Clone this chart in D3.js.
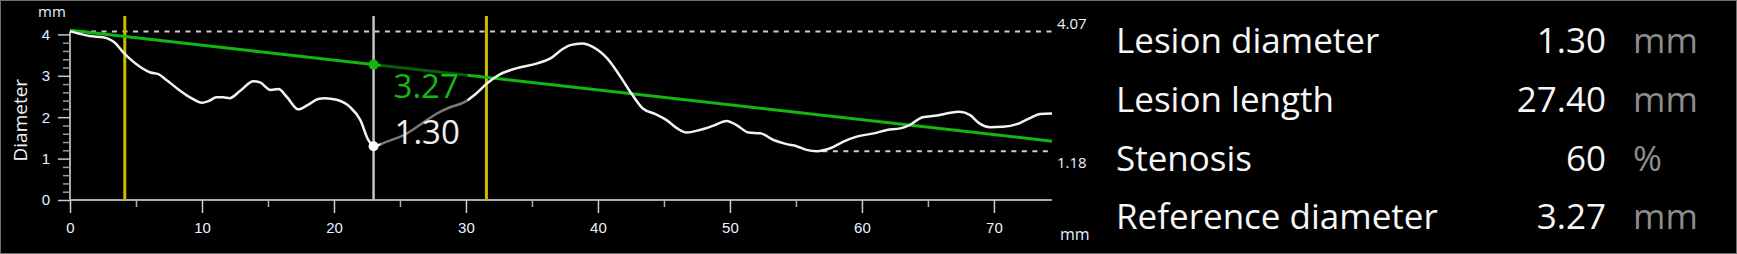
<!DOCTYPE html>
<html>
<head>
<meta charset="utf-8">
<script src="https://cdn.jsdelivr.net/npm/d3@7"></script>
<style>
  body { margin: 0; background: #000; }
  svg { display: block; font-family: "Segoe UI", "Open Sans", sans-serif; }
</style>
</head>
<body>
<div id="chart"></div>
<script>
// diameter profile along the vessel (mm, mm)
const positions = [0, 0.8, 1.5, 2.5, 3.0, 3.4, 4.0, 4.5, 5.3, 6.1, 6.7, 7.3, 8.1, 9.1, 10.0, 10.5, 11.1, 11.6, 12.1, 12.9,
    13.9, 14.4, 15.2, 15.8, 16.4, 17.3, 18.0, 18.8, 19.3, 20.2, 21.2, 22.0, 22.6, 23.0, 24.0, 25.3, 26.5, 27.8, 28.8, 29.8,
    30.8, 31.6, 32.6, 33.8, 35.4, 36.4, 37.3, 37.9, 38.8, 39.6, 40.7, 41.7, 42.6, 43.4, 44.4, 45.2, 46.0, 46.7, 47.7, 48.7,
    49.75, 50.5, 51.4, 52.3, 53.3, 54.3, 55.05, 55.8, 56.6, 57.6, 58.6, 59.6, 60.9, 61.9, 62.9, 63.6, 64.6, 65.7, 66.7, 67.4,
    68.2, 68.9, 69.7, 70.7, 71.8, 72.7, 73.5, 74.4]
const diameters = [4.08, 4.01, 3.96, 3.93, 3.88, 3.80, 3.58, 3.42, 3.22, 3.08, 3.04, 2.90, 2.70, 2.48, 2.35, 2.39, 2.48, 2.48, 2.46, 2.64,
    2.87, 2.84, 2.66, 2.68, 2.50, 2.19, 2.29, 2.44, 2.46, 2.42, 2.25, 1.93, 1.45, 1.30, 1.41, 1.57, 1.81, 2.09, 2.24, 2.35,
    2.58, 2.82, 3.04, 3.18, 3.30, 3.42, 3.64, 3.74, 3.78, 3.70, 3.42, 2.98, 2.54, 2.21, 2.07, 1.93, 1.73, 1.63, 1.69, 1.79,
    1.91, 1.81, 1.63, 1.61, 1.45, 1.35, 1.30, 1.21, 1.18, 1.25, 1.41, 1.53, 1.61, 1.69, 1.73, 1.81, 2.00, 2.04, 2.11, 2.13,
    2.05, 1.85, 1.76, 1.77, 1.84, 1.97, 2.08, 2.09]

const xTicks = [0, 10, 20, 30, 40, 50, 60, 70]
const xMinorTicks = [5, 15, 25, 35, 45, 55, 65]
const yTicks = [0, 1, 2, 3, 4]
const yMinorTicks = d3.range(1, 21).map(i => i / 5).filter(v => v % 1 !== 0)

const maxDiameter = 4.07
const minDiameter = 1.18
const minDashStart = 57.0
const referenceLine = [[0, 4.10], [74.4, 1.42]]
const lesionBounds = [4.15, 31.55]
const lesionPos = 23.0
const lesionDiameter = 1.30
const referenceDiameter = 3.27

const statLabels = ["Lesion diameter", "Lesion length", "Stenosis", "Reference diameter"]
const statValues = ["1.30", "27.40", "60", "3.27"]
const statUnits = ["mm", "mm", "%", "mm"]

const W = 1737, H = 254
const svg = d3.select("#chart").append("svg").attr("width", W).attr("height", H)

svg.append("rect").attr("x", 0.5).attr("y", 0.5).attr("width", W - 1).attr("height", H - 1)
    .attr("fill", "#000").attr("stroke", "#6e6e6e")

const x = d3.scaleLinear().domain([0, 74.4]).range([70, 1052])
const y = d3.scaleLinear().domain([0, maxDiameter]).range([200, 200 - 41.4 * maxDiameter])

const labelColor = "#eaf0ff"

// y axis
svg.append("line").attr("x1", x(0)).attr("x2", x(0)).attr("y1", y(0)).attr("y2", y(maxDiameter))
    .attr("stroke", "#a8a8a8").attr("stroke-width", 2)
svg.append("g").attr("transform", `translate(${x(0)},0)`)
    .call(d3.axisLeft(y).tickValues(yMinorTicks).tickSize(7).tickFormat(""))
    .call(g => g.select(".domain").remove())
    .call(g => g.selectAll("line").attr("stroke", "#9a9a9a").attr("stroke-width", 1.5))
svg.append("g").attr("transform", `translate(${x(0)},0)`)
    .call(d3.axisLeft(y).tickValues(yTicks).tickSize(12).tickPadding(8).tickFormat(d3.format("d")))
    .call(g => g.select(".domain").remove())
    .call(g => g.selectAll("line").attr("stroke", "#c8c8c8").attr("stroke-width", 1.5))
    .call(g => g.selectAll("text").attr("fill", labelColor).attr("font-size", 15).attr("font-family", null))

// x axis
svg.append("line").attr("x1", x(0)).attr("x2", x(74.4)).attr("y1", y(0)).attr("y2", y(0))
    .attr("stroke", "#a8a8a8").attr("stroke-width", 2)
svg.append("g").attr("transform", `translate(0,${y(0)})`)
    .call(d3.axisBottom(x).tickValues(xMinorTicks).tickSize(7).tickFormat(""))
    .call(g => g.select(".domain").remove())
    .call(g => g.selectAll("line").attr("stroke", "#b0b0b0").attr("stroke-width", 1.5))
svg.append("g").attr("transform", `translate(0,${y(0)})`)
    .call(d3.axisBottom(x).tickValues(xTicks).tickSize(13).tickPadding(9).tickFormat(d3.format("d")))
    .call(g => g.select(".domain").remove())
    .call(g => g.selectAll("line").attr("stroke", "#d0d0d0").attr("stroke-width", 1.5))
    .call(g => g.selectAll("text").attr("fill", labelColor).attr("font-size", 15).attr("font-family", null))

svg.append("text").attr("x", 38).attr("y", 17).attr("fill", labelColor).attr("font-size", 15).text("mm")
svg.append("text").attr("x", 1060).attr("y", 240).attr("fill", labelColor).attr("font-size", 16).text("mm")
svg.append("text").attr("transform", `translate(27,${y(2) + 3}) rotate(-90)`).attr("text-anchor", "middle")
    .attr("fill", "#f0f0f0").attr("font-size", 19).text("Diameter")

// max / min dashed lines
svg.append("line").attr("x1", x(0)).attr("x2", x(74.4)).attr("y1", y(maxDiameter)).attr("y2", y(maxDiameter))
    .attr("stroke", "#cfcfcf").attr("stroke-width", 2).attr("stroke-dasharray", "5,5.5")
svg.append("line").attr("x1", x(minDashStart)).attr("x2", x(74.4)).attr("y1", y(minDiameter)).attr("y2", y(minDiameter))
    .attr("stroke", "#cfcfcf").attr("stroke-width", 2).attr("stroke-dasharray", "5,5.5")
svg.append("text").attr("x", 1057).attr("y", y(maxDiameter) - 3).attr("fill", labelColor).attr("font-size", 15)
    .text(maxDiameter.toFixed(2))
svg.append("text").attr("x", 1057).attr("y", y(minDiameter) + 17).attr("fill", labelColor).attr("font-size", 15)
    .text(minDiameter.toFixed(2))

// lesion boundaries and marker line
lesionBounds.forEach(b => {
    svg.append("line").attr("x1", x(b)).attr("x2", x(b)).attr("y1", 16).attr("y2", y(0))
        .attr("stroke", "#cbbb00").attr("stroke-width", 3)
})
svg.append("line").attr("x1", x(lesionPos)).attr("x2", x(lesionPos)).attr("y1", 16).attr("y2", y(0))
    .attr("stroke", "#c4c4c4").attr("stroke-width", 2.5)

// reference diameter line
svg.append("line")
    .attr("x1", x(referenceLine[0][0])).attr("y1", y(referenceLine[0][1]))
    .attr("x2", x(referenceLine[1][0])).attr("y2", y(referenceLine[1][1]))
    .attr("stroke", "#12b812").attr("stroke-width", 3)

// diameter curve
const line = d3.line().x((d, i) => x(positions[i])).y(d => y(d)).curve(d3.curveMonotoneX)
svg.append("path").datum(diameters).attr("d", line)
    .attr("fill", "none").attr("stroke", "#f2f2f2").attr("stroke-width", 2.5)

// value labels with translucent backing
svg.append("rect").attr("x", x(lesionPos) + 7).attr("y", 58).attr("width", 87).attr("height", 94)
    .attr("fill", "#000").attr("opacity", 0.5)
svg.append("circle").attr("cx", x(lesionPos)).attr("cy", y(referenceDiameter)).attr("r", 5).attr("fill", "#12b812")
svg.append("circle").attr("cx", x(lesionPos)).attr("cy", y(lesionDiameter)).attr("r", 5).attr("fill", "#fff")
svg.append("text").attr("x", x(lesionPos) + 20).attr("y", y(referenceDiameter) + 33)
    .attr("fill", "#16b816").attr("font-size", 33).text(referenceDiameter.toFixed(2))
svg.append("text").attr("x", x(lesionPos) + 21).attr("y", y(lesionDiameter) - 2)
    .attr("fill", "#f0f0f0").attr("font-size", 33).text(lesionDiameter.toFixed(2))

// stats panel
const rows = svg.append("g").selectAll("g").data(statLabels).join("g")
    .attr("transform", (d, i) => `translate(0,${53 + i * 58.8})`)
rows.append("text").attr("x", 1116).attr("fill", "#f6f6f6").attr("font-size", 35).text(d => d)
rows.append("text").attr("x", 1606).attr("text-anchor", "end").attr("fill", "#f6f6f6").attr("font-size", 35)
    .text((d, i) => statValues[i])
rows.append("text").attr("x", 1633).attr("fill", "#8c8c8c").attr("font-size", 35).text((d, i) => statUnits[i])
</script>
</body>
</html>
